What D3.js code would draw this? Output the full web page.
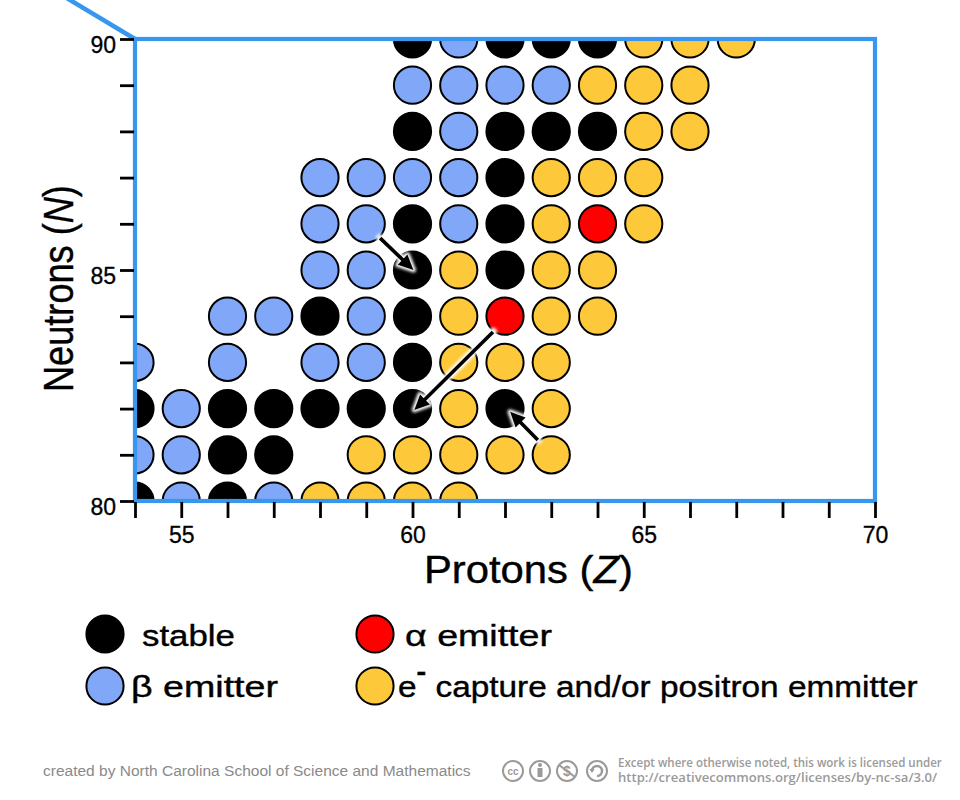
<!DOCTYPE html>
<html><head><meta charset="utf-8">
<script src="https://cdn.jsdelivr.net/npm/d3@7"></script>
<style>body{margin:0;background:#fff}</style>
</head><body>
<svg id="chart" width="960" height="800"></svg>
<script>
// ---------- data ----------
const protonTicks = d3.range(54, 71);
const neutronTicks = d3.range(80, 91);
const protonLabels = [55, 60, 65, 70];
const neutronLabels = [80, 85, 90];

// [Z, N]
const stableNuclides = [
  [60,90],[62,90],[63,90],[64,90],
  [60,88],[62,88],[63,88],[64,88],
  [62,87],
  [60,86],[62,86],
  [60,85],[62,85],
  [58,84],[60,84],
  [60,83],
  [54,82],[56,82],[57,82],[58,82],[59,82],[60,82],[62,82],
  [56,81],[57,81],
  [54,80],[56,80]
];
const betaEmitters = [
  [61,90],
  [60,89],[61,89],[62,89],[63,89],
  [61,88],
  [58,87],[59,87],[60,87],[61,87],
  [58,86],[59,86],[61,86],
  [58,85],[59,85],
  [56,84],[57,84],[59,84],
  [54,83],[56,83],[58,83],[59,83],
  [55,82],
  [54,81],[55,81],
  [55,80],[57,80]
];
const alphaEmitters = [[64,86],[62,84]];
const captureEmitters = [
  [65,90],[66,90],[67,90],
  [64,89],[65,89],[66,89],
  [65,88],[66,88],
  [63,87],[64,87],[65,87],
  [63,86],[65,86],
  [61,85],[63,85],[64,85],
  [61,84],[63,84],[64,84],
  [61,83],[62,83],[63,83],
  [61,82],[63,82],
  [59,81],[60,81],[61,81],[62,81],[63,81],
  [58,80],[59,80],[60,80],[61,80]
];
const decayKeys = ["stable", "beta", "alpha", "capture"];
const legendLabels = ["stable", "β emitter", "α emitter", "capture and/or positron emmitter"];

// decay arrows, [Z, N] from -> to
const arrowFrom = [[59.30, 85.69], [61.74, 83.66], [62.71, 81.32]];
const arrowTo   = [[60.02, 85.00], [60.04, 81.97], [62.11, 81.93]];

// ---------- style ----------
const colors = {stable: "#000000", beta: "#80a7f8", alpha: "#ff0000", capture: "#fdc93a"};
const frameBlue = "#3797ee";
const FONT = "'Liberation Sans', Arial, sans-serif";

const svg = d3.select("#chart");
const x = d3.scaleLinear().domain([54, 70]).range([135, 875]);
const y = d3.scaleLinear().domain([80, 90]).range([501, 39]);

function fitText(g, target) {
  const w = g.node().getBBox().width;
  return target / w;
}

// defs
const defs = svg.append("defs");
defs.append("clipPath").attr("id", "plotClip")
  .append("rect").attr("x", x(54)).attr("y", y(90)).attr("width", x(70) - x(54)).attr("height", y(80) - y(90));
const glow = defs.append("filter").attr("id", "glow").attr("x", "-50%").attr("y", "-50%").attr("width", "200%").attr("height", "200%");
glow.append("feGaussianBlur").attr("stdDeviation", 1.8);

// zoom indicator line
svg.append("line").attr("x1", x(54) - 80).attr("y1", y(90) - 48)
  .attr("x2", x(54)).attr("y2", y(90))
  .attr("stroke", frameBlue).attr("stroke-width", 4.5);

// nuclides
const all = [
  ...stableNuclides.map(d => ({z: d[0], n: d[1], k: "stable"})),
  ...betaEmitters.map(d => ({z: d[0], n: d[1], k: "beta"})),
  ...alphaEmitters.map(d => ({z: d[0], n: d[1], k: "alpha"})),
  ...captureEmitters.map(d => ({z: d[0], n: d[1], k: "capture"}))
];
svg.append("g").attr("clip-path", "url(#plotClip)")
  .selectAll("circle").data(all).join("circle")
  .attr("cx", d => x(d.z)).attr("cy", d => y(d.n)).attr("r", 18.6)
  .attr("fill", d => colors[d.k]).attr("stroke", "#000").attr("stroke-width", 2);

// arrows
function arrowGeom(i) {
  const x1 = x(arrowFrom[i][0]), y1 = y(arrowFrom[i][1]);
  const x2 = x(arrowTo[i][0]), y2 = y(arrowTo[i][1]);
  const dx = x2 - x1, dy = y2 - y1, L = Math.hypot(dx, dy);
  const ux = dx / L, uy = dy / L, px = -uy, py = ux;
  const hl = 15, hw = 7;
  const bx = x2 - ux * hl, by = y2 - uy * hl;
  return {x1, y1, bx, by, head: [[x2, y2], [bx + px * hw, by + py * hw], [bx - px * hw, by - py * hw]]};
}
const arrowsG = svg.append("g");
arrowFrom.forEach((_, i) => {
  const a = arrowGeom(i);
  const gl = arrowsG.append("g").attr("filter", "url(#glow)");
  gl.append("line").attr("x1", a.x1).attr("y1", a.y1).attr("x2", a.bx).attr("y2", a.by)
    .attr("stroke", "#fff").attr("stroke-width", 8).attr("stroke-linecap", "round");
  gl.append("polygon").attr("points", a.head.map(p => p.join(",")).join(" "))
    .attr("fill", "#fff").attr("stroke", "#fff").attr("stroke-width", 5).attr("stroke-linejoin", "round");
});
arrowFrom.forEach((_, i) => {
  const a = arrowGeom(i);
  arrowsG.append("line").attr("x1", a.x1).attr("y1", a.y1).attr("x2", a.bx + (a.head[0][0] - a.bx) * 0.3).attr("y2", a.by + (a.head[0][1] - a.by) * 0.3)
    .attr("stroke", "#000").attr("stroke-width", 3.6);
  arrowsG.append("polygon").attr("points", a.head.map(p => p.join(",")).join(" "))
    .attr("fill", "#000");
});

// frame
svg.append("rect").attr("x", x(54)).attr("y", y(90)).attr("width", x(70) - x(54)).attr("height", y(80) - y(90))
  .attr("fill", "none").attr("stroke", frameBlue).attr("stroke-width", 4.2);

// axes
const xAxis = d3.axisBottom(x).tickValues(protonTicks)
  .tickFormat(d => protonLabels.includes(d) ? d : "").tickSize(16).tickPadding(9);
const gx = svg.append("g").attr("transform", `translate(0,${y(80) + 1})`).call(xAxis)
  .attr("font-size", null).attr("font-family", null);
gx.select(".domain").remove();
gx.selectAll(".tick line").attr("stroke", "#000").attr("stroke-width", 2.8);
gx.selectAll(".tick text").style("font-family", FONT).style("font-size", "23px")
  .attr("fill", "#000").attr("stroke", "#000").attr("stroke-width", 0.3);

const yAxis = d3.axisLeft(y).tickValues(neutronTicks)
  .tickFormat(d => neutronLabels.includes(d) ? d : "").tickSize(14).tickPadding(4);
const gy = svg.append("g").attr("transform", `translate(${x(54) - 1},0)`).call(yAxis)
  .attr("font-size", null).attr("font-family", null);
gy.select(".domain").remove();
gy.selectAll(".tick line").attr("stroke", "#000").attr("stroke-width", 2.8);
gy.selectAll(".tick text").style("font-family", FONT).style("font-size", "23px")
  .attr("fill", "#000").attr("stroke", "#000").attr("stroke-width", 0.3).attr("dy", "0.6em");

// axis titles
{
  const g = svg.append("g");
  const t = g.append("text").attr("font-family", FONT).attr("font-size", 39).attr("fill", "#000")
    .attr("stroke", "#000").attr("stroke-width", 0.4);
  t.append("tspan").text("Protons (");
  t.append("tspan").attr("font-style", "italic").text("Z");
  t.append("tspan").text(")");
  const s = fitText(g, 209);
  g.attr("transform", `translate(424,583) scale(${s},1)`);
}
{
  const g = svg.append("g");
  const t = g.append("text").attr("font-family", FONT).attr("font-size", 42).attr("fill", "#000")
    .attr("stroke", "#000").attr("stroke-width", 0.4);
  t.append("tspan").text("Neutrons (");
  t.append("tspan").attr("font-style", "italic").text("N");
  t.append("tspan").text(")");
  const s = fitText(g, 207);
  g.attr("transform", `translate(73,392) rotate(-90) scale(${s},1)`);
}

// legend
const legendPos = [
  {cx: 105, cy: 634, tx: 142, ty: 646, w: 93},
  {cx: 105, cy: 686, tx: 131, ty: 697, w: 147},
  {cx: 375, cy: 634, tx: 405, ty: 646, w: 147},
  {cx: 375, cy: 686, tx: 398, ty: 697, w: 520}
];
decayKeys.forEach((k, i) => {
  const p = legendPos[i];
  svg.append("circle").attr("cx", p.cx).attr("cy", p.cy).attr("r", 18.6)
    .attr("fill", colors[k]).attr("stroke", "#000").attr("stroke-width", 2);
  const g = svg.append("g");
  const t = g.append("text").attr("font-family", FONT).attr("font-size", 30).attr("fill", "#000")
    .attr("stroke", "#000").attr("stroke-width", 0.4);
  if (k === "capture") {
    t.append("tspan").text("e");
    t.append("tspan").attr("font-size", 26).attr("font-weight", "bold").attr("dy", -17).text("-");
    t.append("tspan").attr("dy", 17).text(" " + legendLabels[i]);
  } else {
    t.text(legendLabels[i]);
  }
  const s = fitText(g, p.w);
  g.attr("transform", `translate(${p.tx},${p.ty}) scale(${s},1)`);
});

// footer
{
  const g = svg.append("g");
  g.append("text").attr("font-family", FONT).attr("font-size", 15).attr("fill", "#8a8a8a")
    .text("created by North Carolina School of Science and Mathematics");
  const s = fitText(g, 428);
  g.attr("transform", `translate(43,776) scale(${s},1)`);
}
{
  const lines = [["Except where otherwise noted, this work is licensed under", 767, 324],
                 ["http://creativecommons.org/licenses/by-nc-sa/3.0/", 782, 320]];
  lines.forEach(([txt, ty, w]) => {
    const g = svg.append("g");
    g.append("text").attr("font-family", "'Open Sans', sans-serif").attr("font-weight", 600)
      .attr("font-size", 12).attr("fill", "#9a9a9a").text(txt);
    const s = fitText(g, w);
    g.attr("transform", `translate(618,${ty}) scale(${s},1)`);
  });
  const icons = svg.append("g").attr("stroke", "#9a9a9a").attr("fill", "none");
  [513, 540, 567, 597].forEach(cx => {
    icons.append("circle").attr("cx", cx).attr("cy", 771).attr("r", 10).attr("stroke-width", 2);
  });
  svg.append("text").attr("x", 513).attr("y", 774.5).attr("text-anchor", "middle")
    .attr("font-family", FONT).attr("font-weight", "bold").attr("font-size", 10).attr("fill", "#9a9a9a").text("cc");
  icons.append("circle").attr("cx", 540).attr("cy", 765).attr("r", 2).attr("fill", "#9a9a9a").attr("stroke", "none");
  icons.append("rect").attr("x", 537.5).attr("y", 768).attr("width", 5).attr("height", 9).attr("fill", "#9a9a9a").attr("stroke", "none");
  svg.append("text").attr("x", 567).attr("y", 776).attr("text-anchor", "middle")
    .attr("font-family", FONT).attr("font-weight", "bold").attr("font-size", 14).attr("fill", "#9a9a9a").text("$");
  icons.append("line").attr("x1", 559).attr("y1", 765).attr("x2", 575).attr("y2", 777).attr("stroke-width", 2);
  icons.append("path").attr("d", "M 592 771 A 5 5 0 1 1 597 776").attr("stroke-width", 2.5);
  icons.append("path").attr("d", "M 589.5 769 L 592 773 L 594.5 769 Z").attr("fill", "#9a9a9a").attr("stroke", "none");
}
</script>
</body></html>
